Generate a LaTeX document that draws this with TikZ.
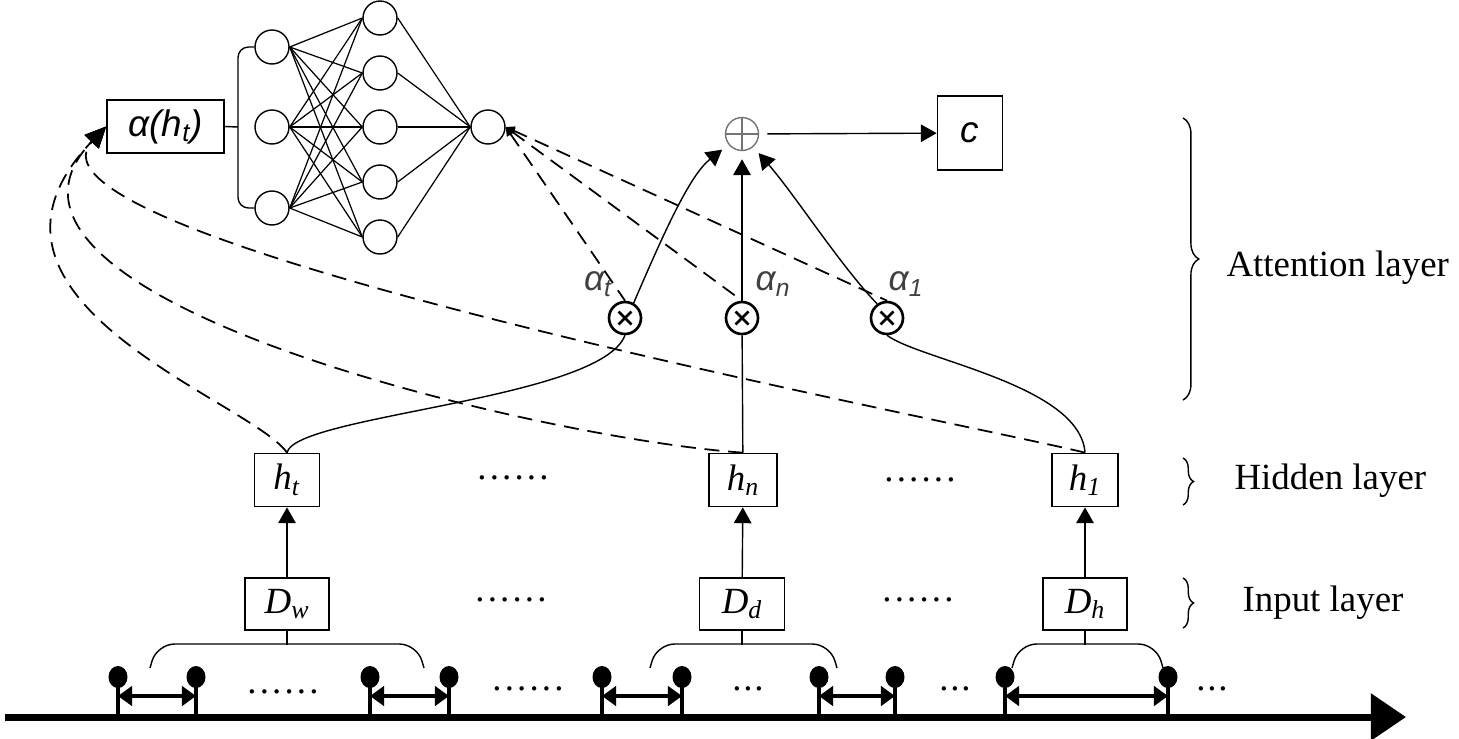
\documentclass[tikz,border=0pt]{standalone}
\usepackage{fontspec}
\setmainfont{Liberation Serif}
\newfontfamily\lsans{Liberation Sans}
\usepackage{tikz}
\usetikzlibrary{arrows.meta,positioning,decorations.pathreplacing,calc}

\newcommand{\vsub}[2]{\textit{#1}\textsubscript{\textit{#2}}}
\newcommand{\sixdots}{.\kern1.8pt.\kern1.8pt.\kern1.8pt.\kern1.8pt.\kern1.8pt.}
\newcommand{\threedots}{.\kern1pt.\kern1pt.}

\tikzset{
  box/.style={draw, line width=1pt, inner sep=0pt, minimum height=1.06cm},
  neuron/.style={circle, draw, line width=0.8pt, fill=white, minimum size=0.68cm, inner sep=0pt},
  mult/.style={circle, draw, line width=1.5pt, minimum size=0.64cm, inner sep=0pt,
    path picture={\draw[line width=1.5pt]
      ($(path picture bounding box.center)+(-0.13cm,-0.13cm)$) -- ($(path picture bounding box.center)+(0.13cm,0.13cm)$)
      ($(path picture bounding box.center)+(-0.13cm,0.13cm)$) -- ($(path picture bounding box.center)+(0.13cm,-0.13cm)$);}},
  sumnode/.style={circle, draw=black!55, line width=0.8pt, minimum size=0.66cm, inner sep=0pt, outer sep=5pt,
    path picture={\draw[black!55, line width=0.8pt]
      (path picture bounding box.north) -- (path picture bounding box.south)
      (path picture bounding box.west) -- (path picture bounding box.east);}},
  dsh/.style={dash pattern=on 8.5pt off 5pt, line width=1pt},
  tip/.style={-{Triangle[length=9pt,width=10pt]}},
  dbl/.style={line width=2pt, {Triangle[length=8pt,width=11pt]}-{Triangle[length=8pt,width=11pt]}},
  albl/.style={text=black!75, font=\fontsize{20}{24}\selectfont\lsans\itshape}
}

\begin{document}
\begin{tikzpicture}[x=0.02cm, y=-0.02cm, line width=0.8pt,
  every node/.style={font=\fontsize{21}{25}\selectfont}]
\useasboundingbox (0,0) rectangle (1459,738);

% scoring network
\node[box, minimum width=2.34cm] (alpha) at (165.5,126.5) {\lsans\itshape α(h\textsubscript{t})};
\foreach \i/\y in {1/47,2/127,3/208} \node[neuron] (in\i) at (272,\y) {};
\foreach \j/\y in {1/18,2/73,3/127,4/182,5/237} \node[neuron] (hd\j) at (380,\y) {};
\node[neuron] (out) at (488,127) {};
\foreach \i in {1,2,3} \foreach \j in {1,...,5} \draw[line width=0.7pt] (in\i.east) -- (hd\j.west);
\foreach \j in {1,...,5} \draw[line width=0.7pt] (hd\j.east) -- (out.west);
\coordinate (brk) at (238,127);
\draw[rounded corners=6pt] (in1.west) -- (in1.west -| brk) -- (in3.west -| brk) -- (in3.west);
\draw (alpha.east) -- (brk);

% attention
\node[sumnode] (sum) at (742,134) {};
\node[box, minimum width=1.3cm, minimum height=1.48cm] (ctx) at (970,133) {\lsans\itshape c};
\node[mult] (xt) at (625,318) {};
\node[mult] (xn) at (742,318) {};
\node[mult] (x1) at (887,318) {};
\node[albl] (wt) at (598,284) {α\textsubscript{t}};
\node[albl] (wn) at (773,284) {α\textsubscript{n}};
\node[albl] (w1) at (906,284) {α\textsubscript{1}};
\draw[tip] (sum) -- (ctx);
\draw[tip] (xt.60) .. controls (665,230) and (690,175) .. (sum);
\draw[tip] (xn) -- (sum);
\draw[tip] (x1.125) .. controls (840,265) and (795,195) .. (sum);
\foreach \m in {xt,xn,x1}
  \draw[dsh, {Triangle[length=5pt,width=5pt]}-] (out.east) -- (\m.north);

% hidden and input layers
\node[box, minimum width=1.3cm] (ht) at (287,480) {\vsub{h}{t}};
\node[box, minimum width=1.36cm] (hn) at (743,480) {\vsub{h}{n}};
\node[box, minimum width=1.32cm] (h1) at (1085,480) {\vsub{h}{1}};
\node[box, minimum width=1.68cm, minimum height=1.04cm] (dw) at (287,604) {\vsub{D}{w}};
\node[box, minimum width=1.7cm, minimum height=1.04cm] (dd) at (742,604) {\vsub{D}{d}};
\node[box, minimum width=1.68cm, minimum height=1.04cm] (dh) at (1085,604) {\vsub{D}{h}};
\node at (513,478) {\sixdots};
\node at (920,480) {\sixdots};
\node at (511,600) {\sixdots};
\node at (918,600) {\sixdots};
\draw[tip] (dw) -- (ht);
\draw[tip] (dd) -- (hn);
\draw[tip] (dh) -- (h1);
\draw (ht.north) .. controls (295,415) and (600,400) .. (xt.south);
\draw (hn) -- (xn);
\draw (x1.south) .. controls (920,360) and (1080,385) .. (h1.north);

% dashed feedback into the scoring network
\draw[dsh, -{Triangle[length=12pt,width=11pt]}] (ht.north) .. controls (250,400) and (-60,300) .. (alpha.west);
\draw[dsh, -{Triangle[length=12pt,width=11pt]}] (hn.north) .. controls (550,440) and (-60,300) .. (alpha.west);
\draw[dsh, -{Triangle[length=12pt,width=11pt]}] (h1.north) .. controls (950,420) and (0,240) .. (alpha.west);

% time axis with events
\draw[line width=4pt, -{Triangle[length=20pt,width=26pt]}] (5,717) -- (1406,717);
\foreach \x [count=\k] in {118,196,370,449,602,682,819,895,1005,1168} {
  \coordinate (p\k) at (\x,677);
  \coordinate (s\k) at (\x,696);
  \draw[line width=1.8pt] (\x,717) -- (p\k);
  \fill (p\k) ellipse [x radius=0.19cm, y radius=0.22cm];
}
\foreach \a/\b in {1/2,3/4,5/6,7/8,9/10} \draw[dbl] (s\a) -- (s\b);
\node at (283,692) {\sixdots};
\node at (528,689) {\sixdots};
\node at (748,689) {\threedots};
\node at (955,689) {\threedots};
\node at (1212,689) {\threedots};

% groups under the input boxes
\draw[rounded corners=10pt] (150,668) -- (157,644) -- (417,644) -- (424,668);
\draw[rounded corners=10pt] (650,668) -- (657,644) -- (830,644) -- (837,668);
\draw[rounded corners=10pt] (1012,668) -- (1019,644) -- (1156,644) -- (1163,668);
\draw (dw.south) -- ++(0,14);
\draw (dd.south) -- ++(0,14);
\draw (dh.south) -- ++(0,14);

% layer names
\draw[decorate, decoration={brace, amplitude=9pt}] (1183,118) -- (1183,400);
\draw[decorate, decoration={brace, amplitude=6pt}] (1183,458) -- (1183,505);
\draw[decorate, decoration={brace, amplitude=6pt}] (1183,578) -- (1183,628);
\node[anchor=west] (att) at (1220,268) {Attention layer};
\node[anchor=west] (hid) at (1228,481) {Hidden layer};
\node[anchor=west] (inp) at (1236,603) {Input layer};
\end{tikzpicture}
\end{document}
